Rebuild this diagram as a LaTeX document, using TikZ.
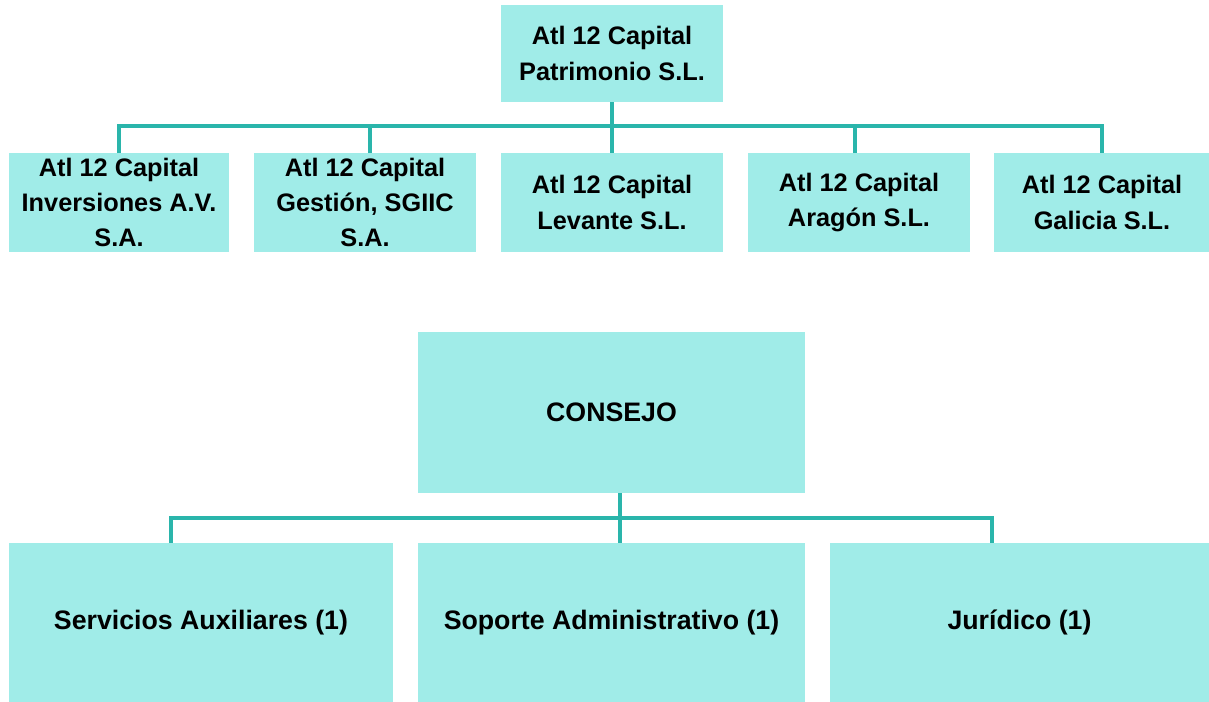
\documentclass[tikz,border=0pt]{standalone}
\usepackage{fontspec}
\setmainfont{Liberation Sans}
\usepackage{tikz}
\usetikzlibrary{positioning}
\definecolor{boxfill}{RGB}{160,236,232}
\definecolor{linkcol}{RGB}{42,181,171}
\tikzstyle{unit} = [rectangle, fill=boxfill, align=center, inner sep=0pt,
font=\fontsize{18}{25}\selectfont\bfseries]
\tikzstyle{small} = [unit, minimum width=5.55cm, minimum height=2.45cm]
\tikzstyle{big} = [unit, minimum width=9.65cm, minimum height=3.98cm,
font=\fontsize{19}{25}\selectfont\bfseries]
\tikzstyle{link} = [draw=linkcol, line width=2.6pt]

\begin{document}
\begin{tikzpicture}[x=0.025cm, y=-0.025cm]
	\useasboundingbox (0,0) rectangle (1209,702);
	% Place nodes
	\node [small, minimum height=2.43cm] (patr) at (612,53.5) {Atl 12 Capital\\Patrimonio S.L.};
	\node [small, minimum width=5.5cm] (inv) at (119,202.5) {Atl 12 Capital\\Inversiones A.V.\\S.A.};
	\node [small] (ges) at (365,202.5) {Atl 12 Capital\\Gesti\'on, SGIIC\\S.A.};
	\node [small] (lev) at (612,202.5) {Atl 12 Capital\\Levante S.L.};
	\node [small] (ara) at (859,202.5) {Atl 12 Capital\\Arag\'on S.L.};
	\node [small, minimum width=5.4cm] (gal) at (1102,202.5) {Atl 12 Capital\\Galicia S.L.};
	\coordinate (bar) at (612,126);

	\node [big, minimum height=4.03cm] (cons) at (611.5,412.5) {CONSEJO};
	\node [big, minimum width=9.6cm] (serv) at (201,622.5) {Servicios Auxiliares (1)};
	\node [big] (sop) at (611.5,622.5) {Soporte Administrativo (1)};
	\node [big, minimum width=9.48cm] (jur) at (1019.5,622.5) {Jur\'idico (1)};
	\coordinate (bar2) at (620,518);

	% Connectors
	\path [link] (patr.south) -- (lev.north);
	\path [link] (inv.north) |- (bar) -| (gal.north);
	\path [link] ([xshift=0.12cm]ges.north) -- ([xshift=0.12cm]ges.north |- bar);
	\path [link] ([xshift=-0.1cm]ara.north) -- ([xshift=-0.1cm]ara.north |- bar);
	\path [link] ([xshift=0.21cm]cons.south) -- ([xshift=0.21cm]sop.north);
	\path [link] ([xshift=-0.75cm]serv.north) |- (bar2) -| ([xshift=-0.69cm]jur.north);
\end{tikzpicture}
\end{document}
